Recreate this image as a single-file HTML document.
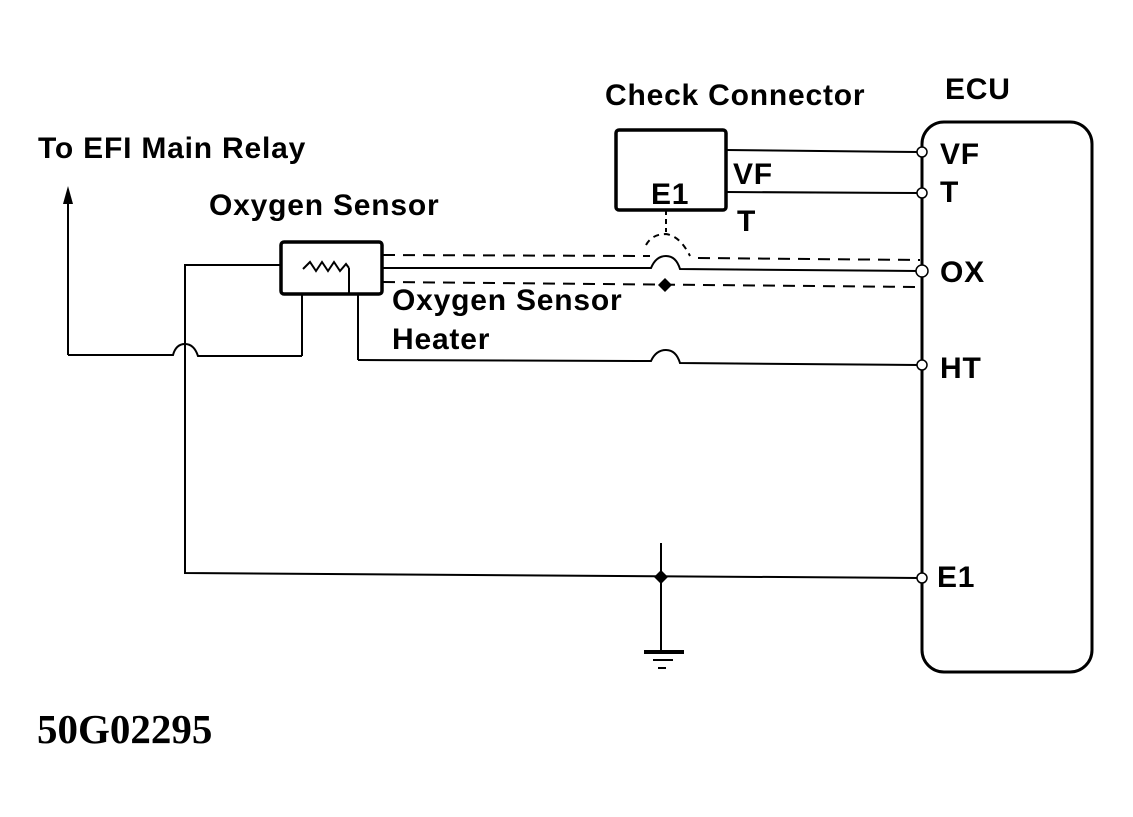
<!DOCTYPE html>
<html><head><style>
html,body{margin:0;padding:0;background:#fff;width:1133px;height:817px;overflow:hidden}
svg text{font-family:"Liberation Sans",sans-serif;font-weight:bold;fill:#000}
</style></head><body>
<svg width="1133" height="817" viewBox="0 0 1133 817" xmlns="http://www.w3.org/2000/svg">
<g fill="none" stroke="#000" stroke-width="2">
<rect x="922" y="122" width="170" height="550" rx="22" stroke-width="3"/>
<rect x="616" y="130" width="110" height="80" rx="3" stroke-width="3.5"/>
<line x1="726" y1="150" x2="918" y2="152"/>
<line x1="726" y1="192" x2="918" y2="193"/>
<line x1="666" y1="210" x2="666" y2="232" stroke-dasharray="5,4"/>
<path d="M646 245 Q652 234 666 234 Q680 236 690 256" stroke-dasharray="6,5"/>
<path d="M383 255 L650 256" stroke-dasharray="12,8"/>
<path d="M698 258 L920 260" stroke-dasharray="12,8"/>
<path d="M383 268 L651 268 Q656 256 666 256 Q676 256 680 269 L918 271"/>
<path d="M383 282 L920 287" stroke-dasharray="12,8"/>
<rect x="281" y="242" width="101" height="52" rx="3" stroke-width="3.5"/>
<path d="M303 269 L310 262 L316 271 L322 262 L328 271 L334 262 L340 271 L346 264 L349 268"/>
<line x1="349" y1="268" x2="349" y2="294"/>
<line x1="302" y1="294" x2="302" y2="356"/>
<line x1="358" y1="294" x2="358" y2="360"/>
<path d="M358 360 L651 361 Q656 350 666 350 Q676 350 680 363 L918 365"/>
<path d="M281 265 L185 265 L185 573 L918 578"/>
<path d="M68 355 L173 355 Q176 344 185 344 Q194 344 198 356 L302 356"/>
<line x1="68" y1="355" x2="68" y2="200"/>
<line x1="661" y1="543" x2="661" y2="652"/>
</g>
<polygon points="68,186 63,204 73,204" fill="#000"/>
<polygon points="665,278 672,285 665,292 658,285" fill="#000"/>
<polygon points="661,570 668,577 661,584 654,577" fill="#000"/>
<rect x="644" y="650" width="40" height="4" fill="#000"/>
<rect x="653" y="659" width="20" height="2" fill="#000"/>
<rect x="658" y="667" width="8" height="2" fill="#000"/>
<g fill="#fff" stroke="#000" stroke-width="1.5">
<circle cx="922" cy="152" r="5"/><circle cx="922" cy="193" r="5"/>
<circle cx="922" cy="271" r="6"/><circle cx="922" cy="365" r="5"/>
<circle cx="922" cy="578" r="5"/>
</g>
<g font-size="30" letter-spacing="0.8">
<text x="945" y="99">ECU</text>
<text x="940" y="164">VF</text>
<text x="940" y="202">T</text>
<text x="940" y="282">OX</text>
<text x="940" y="378">HT</text>
<text x="937" y="587">E1</text>
<text x="605" y="105">Check Connector</text>
<text x="651" y="204">E1</text>
<text x="733" y="184">VF</text>
<text x="737" y="231">T</text>
<text x="38" y="158">To EFI Main Relay</text>
<text x="209" y="215">Oxygen Sensor</text>
<text x="392" y="310">Oxygen Sensor</text>
<text x="392" y="349">Heater</text>
</g>
<text x="37" y="743" font-size="41" style="font-family:'Liberation Serif',serif;font-weight:bold">50G02295</text>
</svg>
</body></html>
